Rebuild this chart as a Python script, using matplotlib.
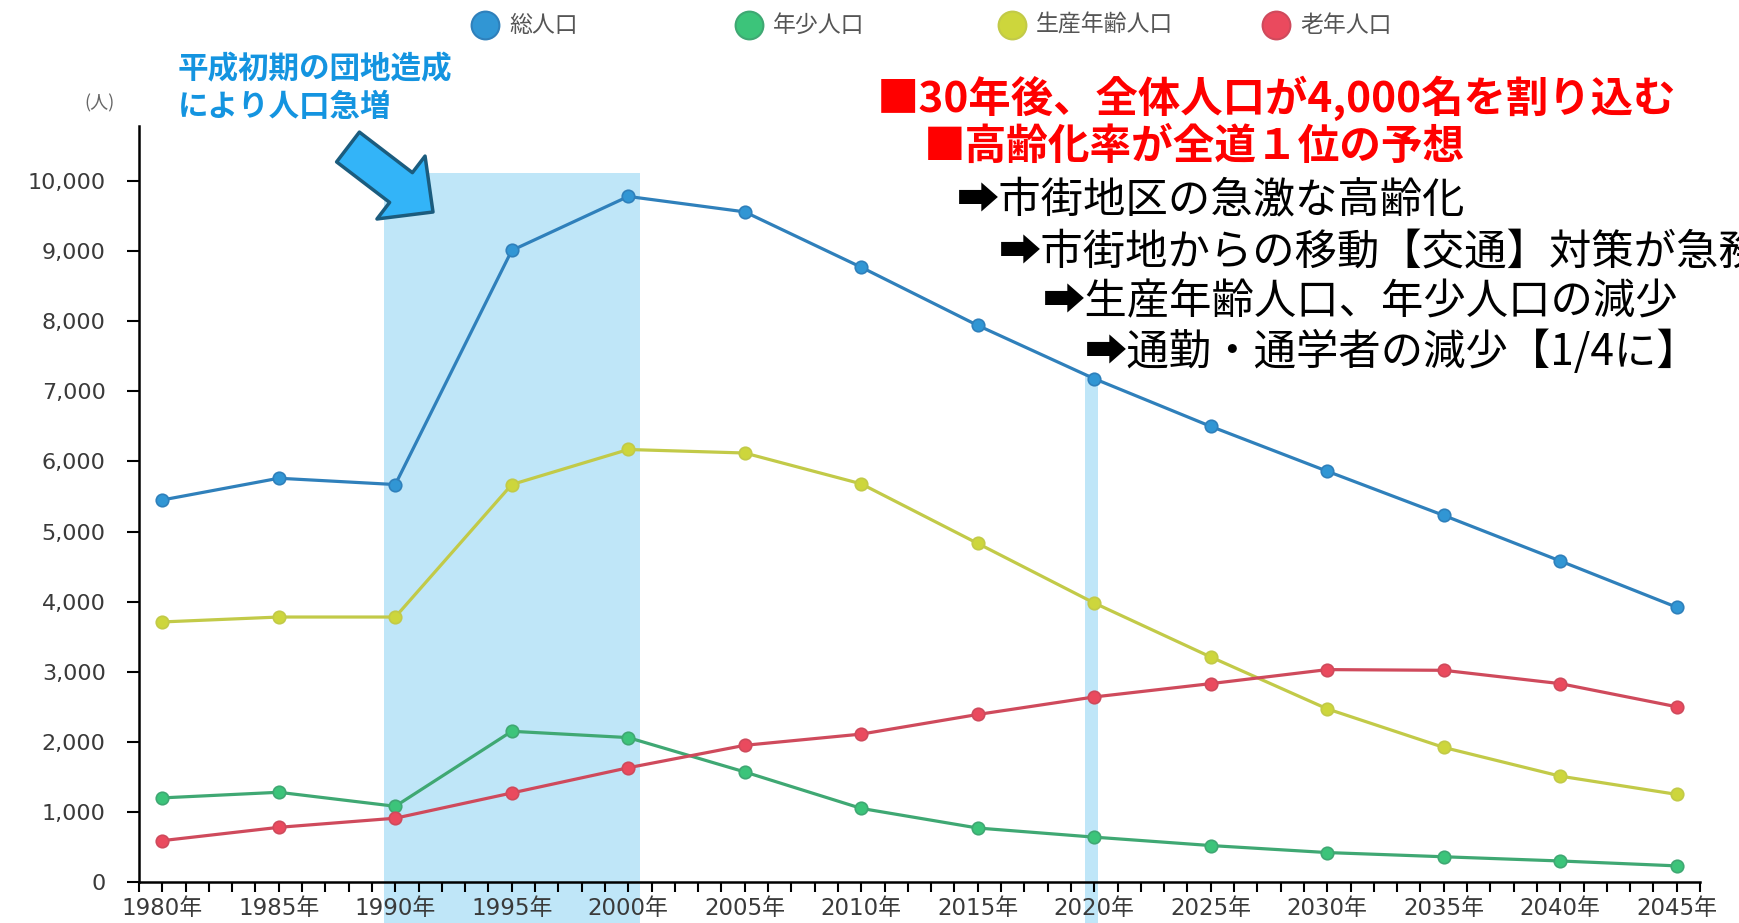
import numpy as np
import matplotlib
matplotlib.use("Agg")
import matplotlib.pyplot as plt
from matplotlib.patches import Rectangle, FancyArrowPatch
from matplotlib.lines import Line2D

years = [1980, 1985, 1990, 1995, 2000, 2005, 2010, 2015, 2020, 2025, 2030, 2035, 2040, 2045]
total = [5450, 5760, 5670, 9010, 9780, 9560, 8770, 7940, 7180, 6500, 5860, 5230, 4580, 3920]
youth = [1200, 1280, 1080, 2150, 2060, 1570, 1050, 770, 640, 520, 420, 360, 300, 230]
working = [3710, 3780, 3780, 5670, 6170, 6120, 5680, 4830, 3980, 3210, 2470, 1920, 1510, 1250]
elderly = [590, 780, 910, 1270, 1630, 1950, 2110, 2390, 2640, 2830, 3030, 3020, 2830, 2500]

labels = ["総人口", "年少人口", "生産年齢人口", "老年人口"]
line_cols = ["#2f80bb", "#3fa873", "#c2ca48", "#cf4a5c"]
mark_cols = ["#3196d4", "#3cc47a", "#cdd63c", "#ea4a5e"]

jp = ["Noto Sans CJK JP", "DejaVu Sans"]
num = ["DejaVu Sans", "Noto Sans CJK JP"]

W, H = 1740, 923
fig = plt.figure(figsize=(W / 100, H / 100), dpi=100)

def fx(x):
    return x / W

def fy(y):
    return 1 - y / H

ax = fig.add_axes([fx(139), fy(882), fx(1700) - fx(139), fy(126) - fy(882)])
ax.set_xlim(1979, 2046)
ax.set_ylim(0, 10785)

# shaded periods
ax.add_patch(Rectangle((1989.5, -700), 11.0, 10820, facecolor="#bfe6f8",
                       edgecolor="none", zorder=0, clip_on=False))
ax.add_patch(Rectangle((2019.6, -700), 0.55, 7950, facecolor="#bfe6f8",
                       edgecolor="none", zorder=0, clip_on=False))

for vals, lc, mc in zip([total, youth, working, elderly], line_cols, mark_cols):
    ax.plot(years, vals, color=lc, lw=2.3, marker="o", ms=9,
            markerfacecolor=mc, markeredgecolor=lc, markeredgewidth=1.2, zorder=3)

for s in ["top", "right"]:
    ax.spines[s].set_visible(False)
ax.spines["left"].set_linewidth(1.8)
ax.spines["bottom"].set_linewidth(1.8)

ax.set_yticks(np.arange(0, 10001, 1000))
ax.set_yticklabels([f"{v:,}" for v in range(0, 10001, 1000)], family=num,
                   fontsize=16, color="#3a3a3a")
ax.tick_params(axis="y", length=9, width=1.5, pad=15)

ax.set_xticks(list(range(1980, 2046, 5)))
ax.set_xticklabels([f"{y}年" for y in range(1980, 2046, 5)], family=num,
                   fontsize=16.5, color="#3a3a3a")
ax.set_xticks(list(range(1979, 2047)), minor=True)
ax.tick_params(axis="x", which="both", length=7, width=1.5, pad=4)

fig.text(fx(100), fy(103), "(人)", family=jp, fontsize=13, color="#666666",
         ha="center", va="center")

# legend
for i, (lab, mc, lc) in enumerate(zip(labels, mark_cols, line_cols)):
    cx = [485, 749, 1012, 1276][i]
    fig.add_artist(Line2D([fx(cx)], [fy(25)], marker="o", ms=20, color=mc,
                          markeredgecolor=lc, markeredgewidth=1.5,
                          transform=fig.transFigure))
    fig.text(fx(cx + 24), fy(25), lab, family=jp, fontsize=16.5, color="#555555",
             ha="left", va="center")

# annotation
fig.text(fx(178), fy(69), "平成初期の団地造成", family=jp, fontsize=22,
         weight="bold", color="#1494e0", ha="left", va="center")
fig.text(fx(178), fy(107), "により人口急増", family=jp, fontsize=22,
         weight="bold", color="#1494e0", ha="left", va="center")

arrow = FancyArrowPatch((fx(348), fy(147)), (fx(433), fy(212)),
                        transform=fig.transFigure,
                        arrowstyle="simple,head_length=29,head_width=57,tail_width=27",
                        mutation_scale=1, shrinkA=0, shrinkB=0,
                        facecolor="#33b4f8", edgecolor="#1b5c7e", lw=2.5)
fig.add_artist(arrow)

fig.text(fx(877), fy(98), "■30年後、全体人口が4,000名を割り込む", family=jp,
         fontsize=30.5, weight="bold", color="#ff0000", ha="left", va="center")
fig.text(fx(924), fy(147), "■高齢化率が全道１位の予想", family=jp,
         fontsize=30, weight="bold", color="#ff0000", ha="left", va="center")

notes = ["➡市街地区の急激な高齢化",
         "➡市街地からの移動【交通】対策が急務",
         "➡生産年齢人口、年少人口の減少",
         "➡通勤・通学者の減少【1/4に】"]
for (x, y), t in zip([(957, 201), (999, 253), (1043, 302), (1085, 353)], notes):
    fig.text(fx(x), fy(y), t, family=jp, fontsize=30.5, color="black",
             ha="left", va="center")

fig.savefig("out.png", dpi=100)
